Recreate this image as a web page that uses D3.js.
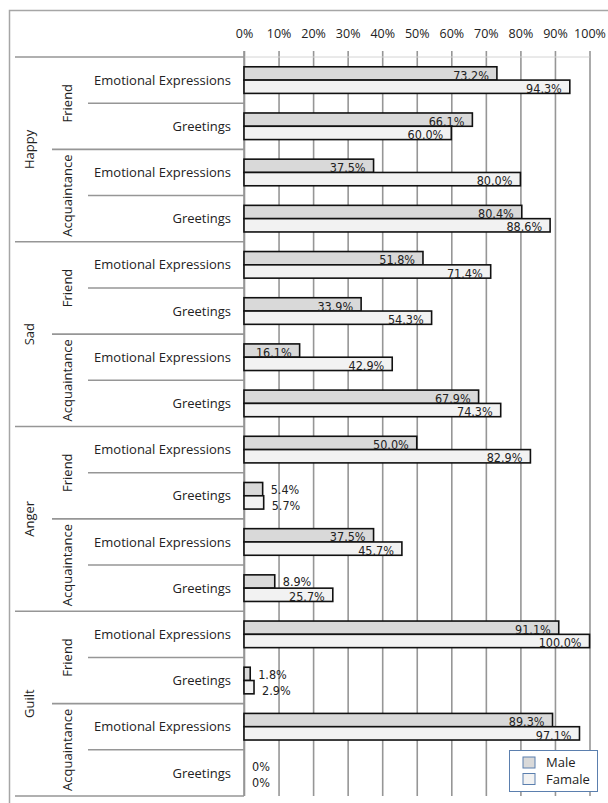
<!DOCTYPE html>
<html>
<head>
<meta charset="utf-8">
<script src="https://cdn.jsdelivr.net/npm/d3@7"></script>
<style>
  html, body { margin: 0; padding: 0; background: #fff; }
  svg { display: block; }
</style>
</head>
<body>
<script>
// Emotion → relation → message type hierarchy (16 rows, top to bottom)
const emotions = ["Happy", "Sad", "Anger", "Guilt"];
const relations = ["Friend", "Acquaintance"];
const types = ["Emotional Expressions", "Greetings"];
const seriesNames = ["Male", "Famale"];

// Percent values per row, same order as the hierarchy above
const maleValues = [73.2, 66.1, 37.5, 80.4, 51.8, 33.9, 16.1, 67.9, 50.0, 5.4, 37.5, 8.9, 91.1, 1.8, 89.3, 0];
const femaleValues = [94.3, 60.0, 80.0, 88.6, 71.4, 54.3, 42.9, 74.3, 82.9, 5.7, 45.7, 25.7, 100.0, 2.9, 97.1, 0];

const tickValues = [0, 10, 20, 30, 40, 50, 60, 70, 80, 90, 100];

const W = 608, H = 803;
const plotLeft = 244, plotRight = 589.5, plotTop = 57, plotBottom = 796;
const catFont = "'Open Sans', 'Noto Sans', sans-serif";
const valFont = "'DejaVu Sans Condensed', 'DejaVu Sans', sans-serif";
const gridColor = "#969696";

const rows = [];
emotions.forEach(e => relations.forEach(r => types.forEach(t => rows.push({ e, r, t }))));
rows.forEach((d, i) => { d.key = i; d.male = maleValues[i]; d.female = femaleValues[i]; });

const svg = d3.select("body").append("svg").attr("width", W).attr("height", H);

// chart frame
svg.append("rect")
  .attr("x", 9.5).attr("y", 10.5).attr("width", 640).attr("height", 820)
  .attr("fill", "#fff").attr("stroke", "#a6a6a6").attr("stroke-width", 1.5);

const x = d3.scaleLinear().domain([0, 100]).range([plotLeft, plotRight]);
const y = d3.scaleBand().domain(rows.map(d => d.key)).range([plotTop, plotBottom]).padding(0);
const bw = y.bandwidth();
const inner = d3.scaleBand().domain(seriesNames)
  .range([bw / 2 - bw * 0.288, bw / 2 + bw * 0.288]).padding(0);

// value axis on top with gridlines running down the plot
const axisG = svg.append("g").attr("transform", `translate(0,51)`)
  .call(d3.axisTop(x).tickValues(tickValues).tickFormat(d => d + "%")
    .tickSize(-(plotBottom - 51)).tickPadding(13));
axisG.select(".domain").remove();
axisG.selectAll(".tick line").attr("stroke", gridColor).attr("stroke-width", 1.6);
axisG.selectAll(".tick text")
  .attr("font-family", catFont).attr("font-size", 12.5).attr("fill", "#222");

svg.append("line")
  .attr("x1", plotLeft).attr("x2", plotRight).attr("y1", plotTop).attr("y2", plotTop)
  .attr("stroke", "#d4d4d4").attr("stroke-width", 1);

// category axis line
svg.append("line")
  .attr("x1", plotLeft).attr("x2", plotLeft).attr("y1", 51).attr("y2", plotBottom)
  .attr("stroke", gridColor).attr("stroke-width", 1.6);

// hierarchy separators: emotion, relation, type boundaries
const boundaries = d3.range(rows.length + 1).map(i => {
  const yy = i < rows.length ? y(i) : y(rows.length - 1) + bw;
  let x0 = 88;
  if (i % 4 === 0) x0 = 15; else if (i % 2 === 0) x0 = 52;
  return { yy, x0 };
});
svg.append("g").selectAll("line").data(boundaries).join("line")
  .attr("x1", d => d.x0).attr("x2", plotLeft)
  .attr("y1", d => d.yy).attr("y2", d => d.yy)
  .attr("stroke", gridColor).attr("stroke-width", 1.6);

// type labels
svg.append("g").selectAll("text").data(rows).join("text")
  .attr("x", 231).attr("y", d => y(d.key) + bw / 2 + 4.6)
  .attr("text-anchor", "end")
  .attr("font-family", catFont).attr("font-size", 13).attr("fill", "#222")
  .text(d => d.t);

// relation labels (rotated)
const relGroups = [];
emotions.forEach((e, ei) => relations.forEach((r, ri) => {
  const start = ei * 4 + ri * 2;
  relGroups.push({ label: r, mid: y(start) + bw });
}));
svg.append("g").selectAll("text").data(relGroups).join("text")
  .attr("transform", d => `translate(71.5,${d.mid}) rotate(-90)`)
  .attr("text-anchor", "middle")
  .attr("font-family", catFont).attr("font-size", 13).attr("fill", "#222")
  .text(d => d.label);

// emotion labels (rotated)
const emoGroups = emotions.map((e, ei) => ({ label: e, mid: y(ei * 4) + bw * 2 }));
svg.append("g").selectAll("text").data(emoGroups).join("text")
  .attr("transform", d => `translate(34,${d.mid}) rotate(-90)`)
  .attr("text-anchor", "middle")
  .attr("font-family", catFont).attr("font-size", 13).attr("fill", "#222")
  .text(d => d.label);

// bars
const fills = { Male: "#d9d9d9", Famale: "#f2f2f2" };
const barData = [];
rows.forEach(d => {
  barData.push({ row: d, s: "Male", v: d.male });
  barData.push({ row: d, s: "Famale", v: d.female });
});
svg.append("g").selectAll("rect").data(barData.filter(d => d.v > 0)).join("rect")
  .attr("x", x(0))
  .attr("y", d => y(d.row.key) + inner(d.s))
  .attr("width", d => x(d.v) - x(0))
  .attr("height", inner.bandwidth())
  .attr("fill", d => fills[d.s])
  .attr("stroke", "#111").attr("stroke-width", 1.6);

// value labels: inside the bar end when they fit, otherwise just past it
const fmt = v => v === 0 ? "0%" : v.toFixed(1) + "%";
const labels = svg.append("g").selectAll("text").data(barData).join("text")
  .attr("font-family", valFont).attr("font-size", 12.5).attr("fill", "#222")
  .text(d => fmt(d.v));
labels.each(function (d) {
  const w = this.getComputedTextLength();
  const end = x(d.v);
  const base = y(d.row.key) + inner(d.s) + inner.bandwidth() - 0.5;
  const t = d3.select(this);
  if (w + 12 > end - x(0)) {
    // short bars: spread the stacked pair slightly so the texts stay apart
    const nudge = d.s === "Male" ? -1.2 : 1.2;
    t.attr("x", end + 8).attr("y", base + nudge).attr("text-anchor", "start");
  } else {
    t.attr("x", end - 8).attr("y", base).attr("text-anchor", "end");
  }
});

// legend
const lg = svg.append("g").attr("transform", "translate(509,750)");
lg.append("rect").attr("x", 0.5).attr("y", 0.5).attr("width", 88).attr("height", 41)
  .attr("fill", "#fff").attr("stroke", "#5b7fae").attr("stroke-width", 1);
const li = lg.selectAll("g.item").data(seriesNames).join("g")
  .attr("class", "item")
  .attr("transform", (d, i) => `translate(14,${7 + i * 16.5})`);
li.append("rect").attr("width", 12).attr("height", 11)
  .attr("fill", d => fills[d]).attr("stroke", "#5b7fae").attr("stroke-width", 1);
li.append("text").attr("x", 23).attr("y", 10)
  .attr("font-family", catFont).attr("font-size", 13).attr("fill", "#222")
  .text(d => d);
</script>
</body>
</html>
